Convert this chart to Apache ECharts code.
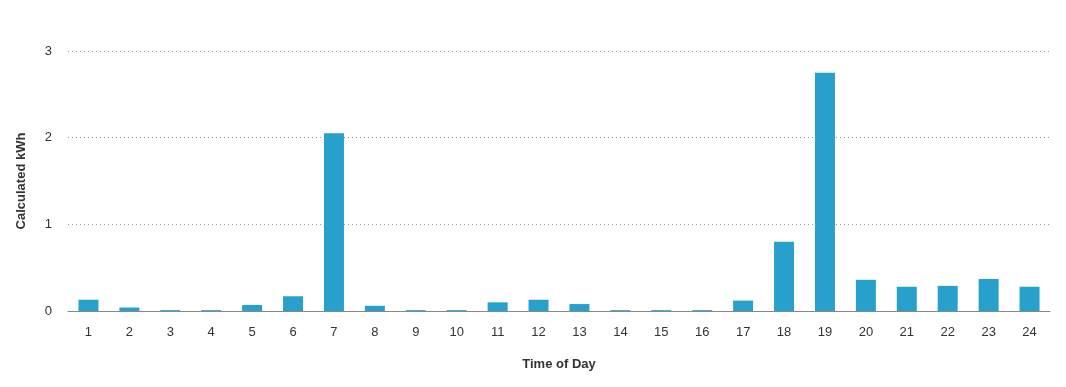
<!DOCTYPE html>
<html><head><meta charset="utf-8">
<script src="https://cdn.jsdelivr.net/npm/echarts@6/dist/echarts.min.js"></script>
<style>html,body{margin:0;padding:0;background:#fff}#c{width:1066px;height:387px}</style>
</head><body><div id="c"></div>
<script>
var categories = ['1','2','3','4','5','6','7','8','9','10','11','12','13','14','15','16','17','18','19','20','21','22','23','24'];
var kwh = [0.13,0.04,0.01,0.01,0.07,0.17,2.05,0.06,0.01,0.01,0.10,0.13,0.08,0.01,0.01,0.01,0.12,0.80,2.75,0.36,0.28,0.29,0.37,0.28];
var yTicks = {min:0, max:3, interval:1};
var chart = echarts.init(document.getElementById('c'));
chart.setOption({
  animation:false,
  textStyle:{fontFamily:'Liberation Sans, Arial, sans-serif'},
  grid:{left:68,right:16,top:51,bottom:76},
  xAxis:{type:'category',data:categories,name:'Time of Day',nameLocation:'middle',nameGap:47,
    nameTextStyle:{fontWeight:'bold',fontSize:13,color:'#333'},
    axisLine:{lineStyle:{color:'#888'}},axisTick:{show:false},
    axisLabel:{color:'#333',fontSize:13,margin:15}},
  yAxis:{type:'value',min:yTicks.min,max:yTicks.max,interval:yTicks.interval,name:'Calculated kWh',nameLocation:'middle',nameGap:40,
    nameTextStyle:{fontWeight:'bold',fontSize:13,color:'#333'},
    axisLabel:{color:'#333',fontSize:13,margin:16},
    splitLine:{lineStyle:{type:[1,3],color:'#999'}}},
  series:[{type:'bar',data:kwh,barWidth:20,itemStyle:{color:'#27a0cc'}}]
});
</script></body></html>
